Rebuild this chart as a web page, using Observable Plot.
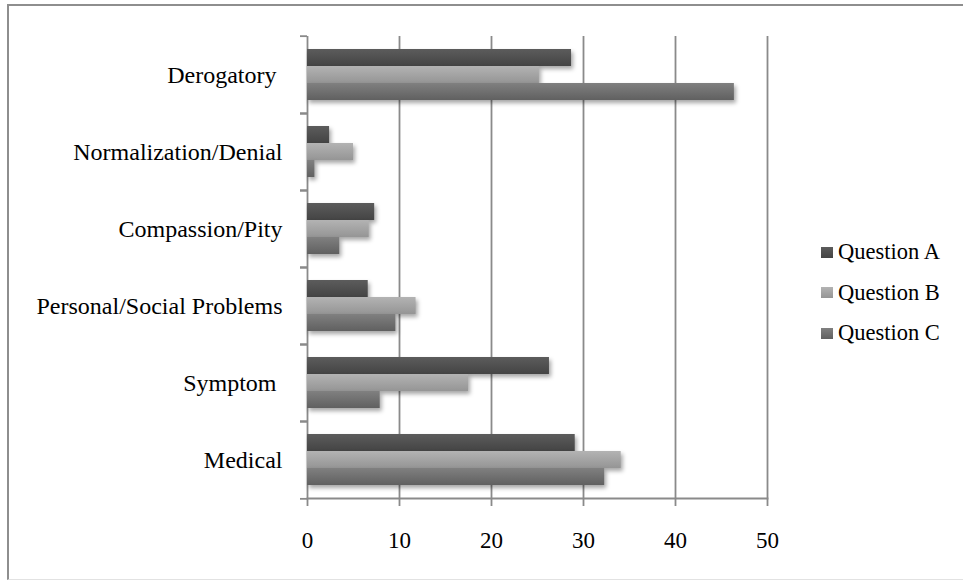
<!DOCTYPE html>
<html>
<head>
<meta charset="utf-8">
<script src="https://cdn.jsdelivr.net/npm/d3@7"></script>
<script src="https://cdn.jsdelivr.net/npm/@observablehq/plot@0.6"></script>
<style>
  html, body { margin: 0; padding: 0; background: #fff; }
  #wrap { position: relative; width: 963px; height: 580px; overflow: hidden; background: #fff; }
  #border { position: absolute; left: 7px; top: 4px; width: 1000px; height: 573px;
            border-top: 2px solid #8e8e8e; border-left: 2px solid #8e8e8e; border-bottom: 1px solid #e2e2e2; }
  #chart { position: absolute; left: 0; top: 0; }
  #chart svg g[aria-label="bar"] rect { filter: drop-shadow(2px 3px 2px rgba(0,0,0,0.35)); }
  #legend { position: absolute; left: 821px; top: 232px; font-family: "Liberation Serif", "Times New Roman", serif; font-size: 22.5px; color: #000; }
  #legend .row { height: 40.5px; display: flex; align-items: center; }
  #legend .sw { width: 12px; height: 11px; margin-right: 5px; }
</style>
</head>
<body>
<div id="wrap">
  <div id="border"></div>
  <div id="chart"></div>
  <div id="legend"></div>
</div>
<script>
const categories = ["Derogatory\u00a0", "Normalization/Denial", "Compassion/Pity", "Personal/Social Problems", "Symptom\u00a0", "Medical"];
const series = ["Question A", "Question B", "Question C"];
const questionA = [28.7, 2.4, 7.3, 6.6, 26.3, 29.1];
const questionB = [25.2, 5.0, 6.7, 11.8, 17.5, 34.1];
const questionC = [46.4, 0.8, 3.5, 9.6, 7.9, 32.3];
const xTicks = [0, 10, 20, 30, 40, 50];

const seriesValues = [questionA, questionB, questionC];
const gradients = [["#5c5c5c", "#444444"], ["#b3b3b3", "#959595"], ["#808080", "#606060"]];
const gridColor = "#8a8a8a";

const data = categories.flatMap((c, i) => series.map((s, k) => ({category: c, series: s, value: seriesValues[k][i]})));

const W = 963, H = 580, mL = 307, mR = 196, mT = 34, mB = 80;
const band = (H - mT - mB) / categories.length;

const defsMark = () => {
  const defs = d3.create("svg:defs");
  gradients.forEach((g, k) => {
    const lg = defs.append("linearGradient").attr("id", "g" + k).attr("x1", 0).attr("y1", 0).attr("x2", 0).attr("y2", 1);
    lg.append("stop").attr("offset", "0%").attr("stop-color", g[0]);
    lg.append("stop").attr("offset", "100%").attr("stop-color", g[1]);
  });
  return defs.node();
};

const chart = Plot.plot({
  width: W, height: H,
  marginLeft: mL, marginRight: mR, marginTop: mT, marginBottom: mB,
  style: {fontFamily: "'Liberation Serif', 'Times New Roman', serif", fontSize: "23px", color: "#000", background: "transparent", overflow: "visible"},
  x: {domain: [0, 50], axis: null},
  y: {domain: series, paddingInner: 0, paddingOuter: 0.7, axis: null},
  fy: {domain: categories, padding: 0, axis: null},
  marks: [
    defsMark,
    Plot.gridX(xTicks, {stroke: gridColor, strokeOpacity: 1, strokeWidth: 1.8}),
    ...series.map((s, k) => Plot.barX(data.filter(d => d.series === s), {
      x: "value", y: "series", fy: "category", fill: `url(#g${k})`
    })),
    Plot.frame({anchor: "bottom", facetAnchor: "bottom", stroke: gridColor, strokeWidth: 1.8}),
    Plot.axisX({anchor: "bottom", ticks: xTicks, tickSize: 8, tickPadding: 25, fontSize: 23, stroke: gridColor, strokeWidth: 1.8, fill: "#000", label: null}),
    Plot.axisFy({anchor: "left", tickSize: 0, tickPadding: 25, fontSize: 24, fill: "#000", label: null}),
    Plot.axisFy({anchor: "left", tickSize: 7, fill: "none", stroke: gridColor, strokeWidth: 1.8, dy: -band / 2, label: null}),
    Plot.axisFy({anchor: "left", tickSize: 7, fill: "none", stroke: gridColor, strokeWidth: 1.8, dy: band / 2, label: null})
  ]
});
document.getElementById("chart").appendChild(chart);

const legend = document.getElementById("legend");
series.forEach((s, k) => {
  const row = document.createElement("div");
  row.className = "row";
  const sw = document.createElement("span");
  sw.className = "sw";
  sw.style.background = `linear-gradient(${gradients[k][0]}, ${gradients[k][1]})`;
  const t = document.createElement("span");
  t.textContent = s;
  row.appendChild(sw);
  row.appendChild(t);
  legend.appendChild(row);
});
</script>
</body>
</html>
